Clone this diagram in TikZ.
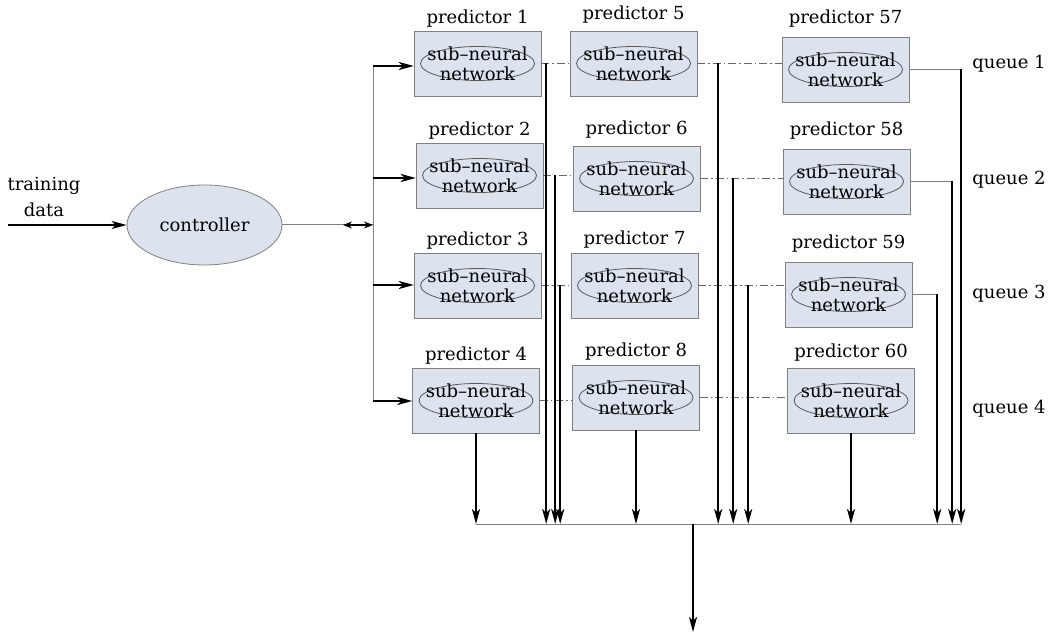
\documentclass[tikz,border=0pt]{standalone}
\usepackage{fontspec}
\setmainfont{DejaVu Serif}
\usetikzlibrary{positioning, shapes.geometric, arrows.meta}
\definecolor{boxblue}{RGB}{220,227,238}

\begin{document}
\begin{tikzpicture}[x=1pt, y=-1pt,
		txt/.style={font=\fontsize{18}{20}\selectfont},
		pred/.style={txt, draw=gray, fill=boxblue, minimum width=127pt, minimum height=65pt, inner sep=0pt, align=center,
			path picture={\draw[gray!70!black, line width=0.8pt] (path picture bounding box.center) ellipse (57pt and 17pt);}},
		plabel/.style={txt, label distance=#1},
		feed/.style={-{Stealth[length=15pt, width=8pt, inset=4pt]}, line width=1.9pt},
		wire/.style={gray, line width=1pt},
		dashlink/.style={gray!80!black, dash pattern=on 8pt off 3pt on 1.5pt off 3pt, line width=1pt}]
	\useasboundingbox (0,0) rectangle (1055,636);

	% input side
	\node[txt, align=center] (train) at (44,197) {training\\[6pt]data};
	\node[txt, ellipse, draw=gray, line width=0.8pt, fill=boxblue, minimum width=155pt, minimum height=80pt] (ctrl) at (204.5,225) {controller};
	\coordinate (in) at (8,225);
	\draw[feed] (in) -- (ctrl.west);

	\coordinate (split) at (373,225);
	\coordinate (splitarr) at (343,225);
	\coordinate (s1) at (373,66);
	\coordinate (s2) at (373,178);
	\coordinate (s3) at (373,285);
	\coordinate (s4) at (373,401);
	\draw[wire] (ctrl.east) -- (split);
	\draw[{Stealth[length=9pt, width=7pt]}-{Stealth[length=9pt, width=7pt]}, line width=1.1pt] (splitarr) -- (split);
	\draw[wire] (s1) -- (s4);

	% predictors
	\node[pred, label={[plabel=0pt]above:predictor 1}] (p1) at (477.5,63.5) {sub–neural\\network};
	\node[pred, label={[plabel=0pt]above:predictor 2}] (p2) at (479.5,175.5) {sub–neural\\network};
	\node[pred, label={[plabel=0pt]above:predictor 3}] (p3) at (477.5,285.5) {sub–neural\\network};
	\node[pred, label={[plabel=0pt]above:predictor 4}] (p4) at (476,400.5) {sub–neural\\network};
	\node[pred, label={[plabel=4pt]above:predictor 5}] (p5) at (633.5,63.5) {sub–neural\\network};
	\node[pred, label={[plabel=4pt]above:predictor 6}] (p6) at (636.5,178.5) {sub–neural\\network};
	\node[pred, label={[plabel=1pt]above:predictor 7}] (p7) at (634.5,285.5) {sub–neural\\network};
	\node[pred, label={[plabel=1pt]above:predictor 8}] (p8) at (636,397.5) {sub–neural\\network};
	\node[pred, label={[plabel=6pt]above:predictor 57}] (p57) at (845.5,69.5) {sub–neural\\network};
	\node[pred, label={[plabel=6pt]above:predictor 58}] (p58) at (846.5,181.5) {sub–neural\\network};
	\node[pred, label={[plabel=6pt]above:predictor 59}] (p59) at (848.5,294.5) {sub–neural\\network};
	\node[pred, label={[plabel=3pt]above:predictor 60}] (p60) at (851,400.5) {sub–neural\\network};

	\draw[feed] (s1) -- (s1 -| p1.west);
	\draw[feed] (s2) -- (s2 -| p2.west);
	\draw[feed] (s3) -- (s3 -| p3.west);
	\draw[feed] (s4) -- (s4 -| p4.west);

	% links along each row
	\draw[dashlink] (p1.east) -- (p1.east -| p5.west);
	\draw[dashlink] (p5.east) -- (p5.east -| p57.west);
	\draw[dashlink] (p2.east) -- (p2.east -| p6.west);
	\draw[dashlink] (p6.east) -- (p6.east -| p58.west);
	\draw[dashlink] (p3.east) -- (p3.east -| p7.west);
	\draw[dashlink] (p7.east) -- (p7.east -| p59.west);
	\draw[dashlink] (p4.east) -- (p4.east -| p8.west);
	\draw[dashlink] (p8.east) -- (p8.east -| p60.west);

	% collecting bus
	\coordinate (bl) at (476,524);
	\coordinate (br) at (961,524);
	\coordinate (bm) at (693,524);
	\coordinate (out) at (693,632);

	\draw[feed] ([xshift=5pt]p1.east) -- ([xshift=5pt]p1.east |- bl);
	\draw[feed] ([xshift=12pt]p2.east) -- ([xshift=12pt]p2.east |- bl);
	\draw[feed] ([xshift=19pt]p3.east) -- ([xshift=19pt]p3.east |- bl);
	\draw[feed] (p4.south) -- (p4.south |- bl);
	\draw[feed] ([xshift=21pt]p5.east) -- ([xshift=21pt]p5.east |- bl);
	\draw[feed] ([xshift=33pt]p6.east) -- ([xshift=33pt]p6.east |- bl);
	\draw[feed] ([xshift=50pt]p7.east) -- ([xshift=50pt]p7.east |- bl);
	\draw[feed] (p8.south) -- (p8.south |- bl);

	\coordinate (q1) at ([xshift=52pt]p57.east);
	\coordinate (q2) at ([xshift=42pt]p58.east);
	\coordinate (q3) at ([xshift=25pt]p59.east);
	\draw[wire] (p57.east) -- (q1);
	\draw[wire] (p58.east) -- (q2);
	\draw[wire] (p59.east) -- (q3);
	\draw[feed] (q1) -- (q1 |- bl);
	\draw[feed] (q2) -- (q2 |- bl);
	\draw[feed] (q3) -- (q3 |- bl);
	\draw[feed] (p60.south) -- (p60.south |- bl);

	\draw[wire] (bl) -- (br);
	\draw[feed] (bm) -- (out);

	% queues
	\node[txt] (queue1) at (1009,64) {queue 1};
	\node[txt] (queue2) at (1009,180) {queue 2};
	\node[txt] (queue3) at (1009,294) {queue 3};
	\node[txt] (queue4) at (1009,409) {queue 4};
\end{tikzpicture}
\end{document}
